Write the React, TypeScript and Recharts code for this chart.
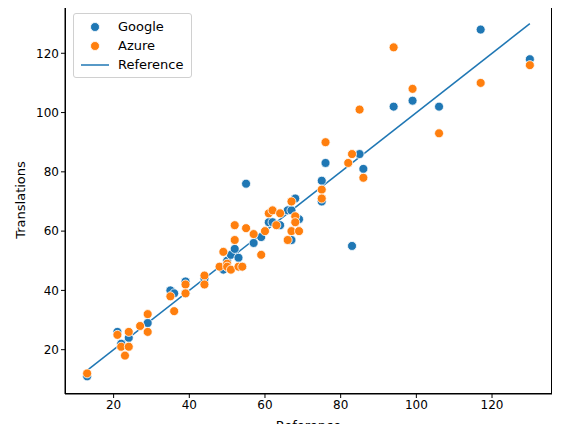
import { ComposedChart, Scatter, Line, XAxis, YAxis } from 'recharts'

const googleX = [13, 21, 22, 24, 29, 35, 36, 39, 39, 44, 49, 50, 50, 51, 52, 53, 54, 55, 57, 59, 61, 62, 64, 66, 67, 67, 68, 69, 75, 75, 76, 83, 85, 86, 94, 99, 106, 117, 130]
const googleY = [11, 26, 22, 24, 29, 40, 39, 43, 39, 44, 47, 50, 48, 52, 54, 51, 48, 76, 56, 58, 63, 63, 62, 67, 57, 67, 71, 64, 77, 70, 83, 55, 86, 81, 102, 104, 102, 128, 118]
const azureX = [13, 21, 22, 23, 24, 24, 27, 29, 29, 35, 36, 39, 39, 44, 44, 48, 49, 50, 50, 51, 52, 52, 53, 54, 55, 57, 59, 60, 61, 62, 63, 64, 66, 67, 67, 68, 68, 69, 75, 75, 76, 82, 83, 85, 86, 94, 99, 106, 117, 130]
const azureY = [12, 25, 21, 18, 21, 26, 28, 32, 26, 38, 33, 42, 39, 45, 42, 48, 53, 49, 48, 47, 62, 57, 48, 48, 61, 59, 52, 60, 66, 67, 62, 66, 57, 60, 70, 65, 63, 60, 74, 71, 90, 83, 86, 101, 78, 122, 108, 93, 110, 116]
const refX = [13, 130]
const ticks = [20, 40, 60, 80, 100, 120]

const google = googleX.map((x, i) => ({ x, y: googleY[i] }))
const azure = azureX.map((x, i) => ({ x, y: azureY[i] }))
const reference = refX.map((x) => ({ x, y: x }))

const BLUE = '#1f77b4'
const ORANGE = '#ff7f0e'
const FONT = 'DejaVu Sans'

const dot = (color: string) => (props: any) => (
  <circle cx={props.cx} cy={props.cy} r={4.5} fill={color} stroke="#fff" strokeWidth={0.8} />
)

function LegendBox() {
  const rows = [
    { label: 'Google', kind: 'dot', color: BLUE },
    { label: 'Azure', kind: 'dot', color: ORANGE },
    { label: 'Reference', kind: 'line', color: BLUE },
  ]
  return (
    <div style={{ position: 'absolute', top: 13, left: 73, border: '1px solid #d0d0d0', borderRadius: 3, background: 'rgba(255,255,255,0.8)', padding: '3px 8px 3px 6px', fontSize: 13, fontFamily: FONT, color: '#000' }}>
      {rows.map((r) => (
        <div key={r.label} style={{ display: 'flex', alignItems: 'center', height: 19 }}>
          <svg width={30} height={12} style={{ marginRight: 8 }}>
            {r.kind === 'dot' ? (
              <circle cx={15} cy={6} r={4.5} fill={r.color} stroke="#fff" strokeWidth={0.8} />
            ) : (
              <line x1={1} y1={6} x2={29} y2={6} stroke={r.color} strokeWidth={1.5} />
            )}
          </svg>
          {r.label}
        </div>
      ))}
    </div>
  )
}

export default function App() {
  const tickStyle = { fill: '#000', fontSize: 12, fontFamily: FONT }
  return (
    <div style={{ margin: -8, background: '#fff', width: 571, height: 432, position: 'relative' }}>
      <ComposedChart width={571} height={432} margin={{ top: 6, right: 19, left: 0, bottom: 0 }}>
        <XAxis
          type="number"
          dataKey="x"
          domain={[7.15, 135.85]}
          ticks={ticks}
          height={38}
          stroke="#000"
          tick={tickStyle}
          tickSize={4}
          allowDuplicatedCategory={false}
          label={{ value: 'Reference', position: 'insideBottom', offset: 2, style: { fill: '#000', fontSize: 13, fontFamily: FONT } }}
        />
        <YAxis
          type="number"
          dataKey="y"
          domain={[5.05, 135.95]}
          ticks={ticks}
          width={65}
          stroke="#000"
          tick={tickStyle}
          tickSize={4}
          label={() => (
            <text x={21} y={200} transform="rotate(-90 21 200)" textAnchor="middle" dominantBaseline="middle" fill="#000" fontSize={13} fontFamily={FONT}>
              Translations
            </text>
          )}
        />
        <Scatter data={google} fill={BLUE} shape={dot(BLUE)} isAnimationActive={false} />
        <Scatter data={azure} fill={ORANGE} shape={dot(ORANGE)} isAnimationActive={false} />
        <Line data={reference} dataKey="y" stroke={BLUE} strokeWidth={1.5} dot={false} isAnimationActive={false} />
      </ComposedChart>
      <div style={{ position: 'absolute', left: 65, top: 6, width: 487, height: 388, border: '1px solid #000', boxSizing: 'border-box', pointerEvents: 'none' }} />
      <LegendBox />
    </div>
  )
}
